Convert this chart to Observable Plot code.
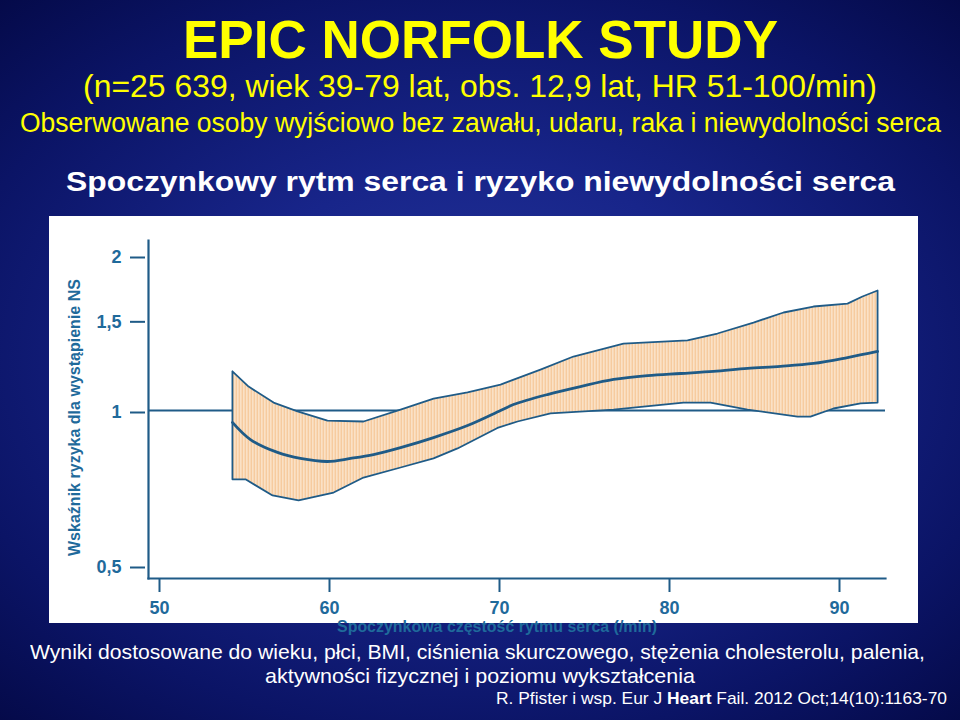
<!DOCTYPE html>
<html>
<head>
<meta charset="utf-8">
<script src="https://cdn.jsdelivr.net/npm/d3@7"></script>
<script src="https://cdn.jsdelivr.net/npm/@observablehq/plot@0.6"></script>
<style>
  html, body { margin: 0; padding: 0; }
  body {
    width: 960px; height: 720px; overflow: hidden; position: relative;
    background: radial-gradient(ellipse 80% 75% at 50% 50%, #25369a 0%, #18258a 35%, #0b1466 70%, #02063e 100%);
    font-family: "Liberation Sans", Arial, sans-serif;
  }
  .t { position: absolute; white-space: nowrap; line-height: 1; transform-origin: 0 0; }
  #panel { position: absolute; left: 49px; top: 216px; width: 869px; height: 407px; background: #fff; }
</style>
</head>
<body>
<div id="panel"></div>
<script>
// ---- data ----
const xTicks = [50, 60, 70, 80, 90];
const yTicks = [0.5, 1, 1.5, 2];
const yTickLabels = ["0,5", "1", "1,5", "2"];

// hazard ratio curve (resting heart rate, /min)
const centralHR = [54.29, 55.35, 56.94, 58.29, 59.88, 61.24, 62.59, 64.18, 66.12, 68.12, 70.06, 70.82, 72.82, 74.76, 76.71, 78.71, 80.65, 82.59, 84.59, 86.53, 88.47, 90.47, 92.24];
const centralRR = [0.948, 0.878, 0.829, 0.807, 0.796, 0.807, 0.821, 0.847, 0.886, 0.935, 1.0, 1.027, 1.074, 1.113, 1.149, 1.169, 1.180, 1.191, 1.207, 1.218, 1.234, 1.267, 1.302];

// upper 95% CI
const upperHR = [54.29, 55.24, 56.71, 58.12, 59.88, 62.0, 64.18, 66.12, 68.12, 70.06, 72.41, 74.35, 77.29, 81.06, 82.82, 84.94, 86.71, 88.47, 90.47, 91.35, 92.24];
const upperRR = [1.191, 1.113, 1.036, 0.996, 0.956, 0.952, 1.004, 1.055, 1.084, 1.123, 1.201, 1.273, 1.349, 1.368, 1.411, 1.482, 1.55, 1.592, 1.613, 1.665, 1.71];

// lower 95% CI
const lowerHR = [54.29, 55.06, 56.65, 58.18, 60.24, 62.0, 64.18, 66.12, 67.53, 69.88, 71.06, 73.0, 76.71, 80.82, 82.41, 84.59, 87.53, 88.29, 89.65, 91.24, 92.24];
const lowerRR = [0.735, 0.735, 0.684, 0.669, 0.693, 0.741, 0.775, 0.807, 0.844, 0.925, 0.952, 0.987, 1.004, 1.036, 1.036, 1.004, 0.973, 0.973, 1.009, 1.032, 1.036];

// ---- styles ----
const lineColor = "#1f5b87";
const labelColor = "#1f6a9b";

const central = centralHR.map((x, i) => ({x, y: centralRR[i]}));
const upper = upperHR.map((x, i) => ({x, y: upperRR[i]}));
const lower = lowerHR.map((x, i) => ({x, y: lowerRR[i]}));
const band = [...upper, ...lower.slice().reverse(), upper[0]];

const svg = Plot.plot({
  width: 869, height: 407,
  marginLeft: 99, marginRight: 33, marginTop: 24, marginBottom: 45,
  style: {background: "white", overflow: "visible", fontFamily: "'Liberation Sans', Arial, sans-serif", fontWeight: "bold", fontSize: "18px"},
  x: {domain: [50, 90], range: [110, 790]},
  y: {type: "log", domain: [0.5, 2], range: [349, 39]},
  marks: [
    Plot.ruleY([1], {stroke: lineColor, strokeWidth: 2}),
    Plot.line(band, {x: "x", y: "y", fill: "url(#hatch)", stroke: lineColor, strokeWidth: 1.8}),
    Plot.line(central, {x: "x", y: "y", curve: "catmull-rom", stroke: lineColor, strokeWidth: 2.8}),
    Plot.frame({anchor: "left", stroke: lineColor, strokeWidth: 2.2}),
    Plot.frame({anchor: "bottom", stroke: lineColor, strokeWidth: 2.2}),
    Plot.axisX({ticks: xTicks, tickSize: 14, tickPadding: 9, fontSize: 18, fontWeight: "bold", color: labelColor, stroke: lineColor, strokeWidth: 2, label: null, tickFormat: d => String(d)}),
    Plot.axisY({ticks: yTicks, tickSize: 15, tickPadding: 9, dx: -3, dy: 2, fontSize: 18, fontWeight: "bold", color: labelColor, stroke: lineColor, strokeWidth: 2, label: null, tickFormat: d => yTickLabels[yTicks.indexOf(d)]})
  ]
});

// enforce tick label font on every text the library drew
svg.querySelectorAll("text").forEach(el => {
  el.style.fontSize = "18px";
  el.style.fontWeight = "bold";
  el.style.fontFamily = "'Liberation Sans', Arial, sans-serif";
});

// hatch pattern for the confidence band
const ns = "http://www.w3.org/2000/svg";
const defs = document.createElementNS(ns, "defs");
defs.innerHTML = '<pattern id="hatch" patternUnits="userSpaceOnUse" width="3" height="10">' +
  '<rect width="3" height="10" fill="#fdeedd"/><rect width="1.6" height="10" fill="#f4c28f"/></pattern>';
svg.insertBefore(defs, svg.firstChild);
svg.style.position = "absolute";
svg.style.left = "49px";
svg.style.top = "216px";
document.body.appendChild(svg);

// ---- texts ----
const texts = [
  {html: "EPIC NORFOLK STUDY", l: 183, r: 778, top: 13, fs: 53, w: "bold", c: "#ffff00"},
  {html: "(n=25 639, wiek 39-79 lat, obs. 12,9 lat, HR 51-100/min)", l: 83, r: 877, top: 70, fs: 32, w: "normal", c: "#ffff00"},
  {html: "Obserwowane osoby wyjściowo bez zawału, udaru, raka i niewydolności serca", l: 20, r: 941, top: 110, fs: 27, w: "normal", c: "#ffff00"},
  {html: "Spoczynkowy rytm serca i ryzyko niewydolności serca", l: 66, r: 895, top: 168, fs: 28, w: "bold", c: "#ffffff"},
  {html: "Wyniki dostosowane do wieku, płci, BMI, ciśnienia skurczowego, stężenia cholesterolu, palenia,", l: 30, r: 925, top: 641, fs: 21, w: "normal", c: "#ffffff"},
  {html: "aktywności fizycznej i poziomu wykształcenia", l: 265, r: 695, top: 665, fs: 21, w: "normal", c: "#ffffff"},
  {html: "R. Pfister i wsp. Eur J <b>Heart</b> Fail. 2012 Oct;14(10):1163-70", l: 496, r: 947, top: 690, fs: 17, w: "normal", c: "#ffffff"},
  {html: "Spoczynkowa częstość rytmu serca (/min)", l: 337, r: 657, top: 619, fs: 16, w: "bold", c: labelColor}
];
for (const t of texts) {
  const d = document.createElement("div");
  d.className = "t";
  d.innerHTML = t.html;
  Object.assign(d.style, {left: t.l + "px", top: t.top + "px", fontSize: t.fs + "px", fontWeight: t.w, color: t.c});
  document.body.appendChild(d);
  const wd = d.getBoundingClientRect().width;
  d.style.transform = `scaleX(${(t.r - t.l) / wd})`;
}

// rotated y-axis label
const yl = document.createElement("div");
yl.className = "t";
yl.textContent = "Wskaźnik ryzyka dla wystąpienie NS";
Object.assign(yl.style, {fontSize: "17px", fontWeight: "bold", color: labelColor, transformOrigin: "50% 50%"});
document.body.appendChild(yl);
const yr = yl.getBoundingClientRect();
const sc = 277 / yr.width;
yl.style.left = (75 - yr.width / 2) + "px";
yl.style.top = (417 - yr.height / 2) + "px";
yl.style.transform = `rotate(-90deg) scaleX(${sc})`;
</script>
</body>
</html>
